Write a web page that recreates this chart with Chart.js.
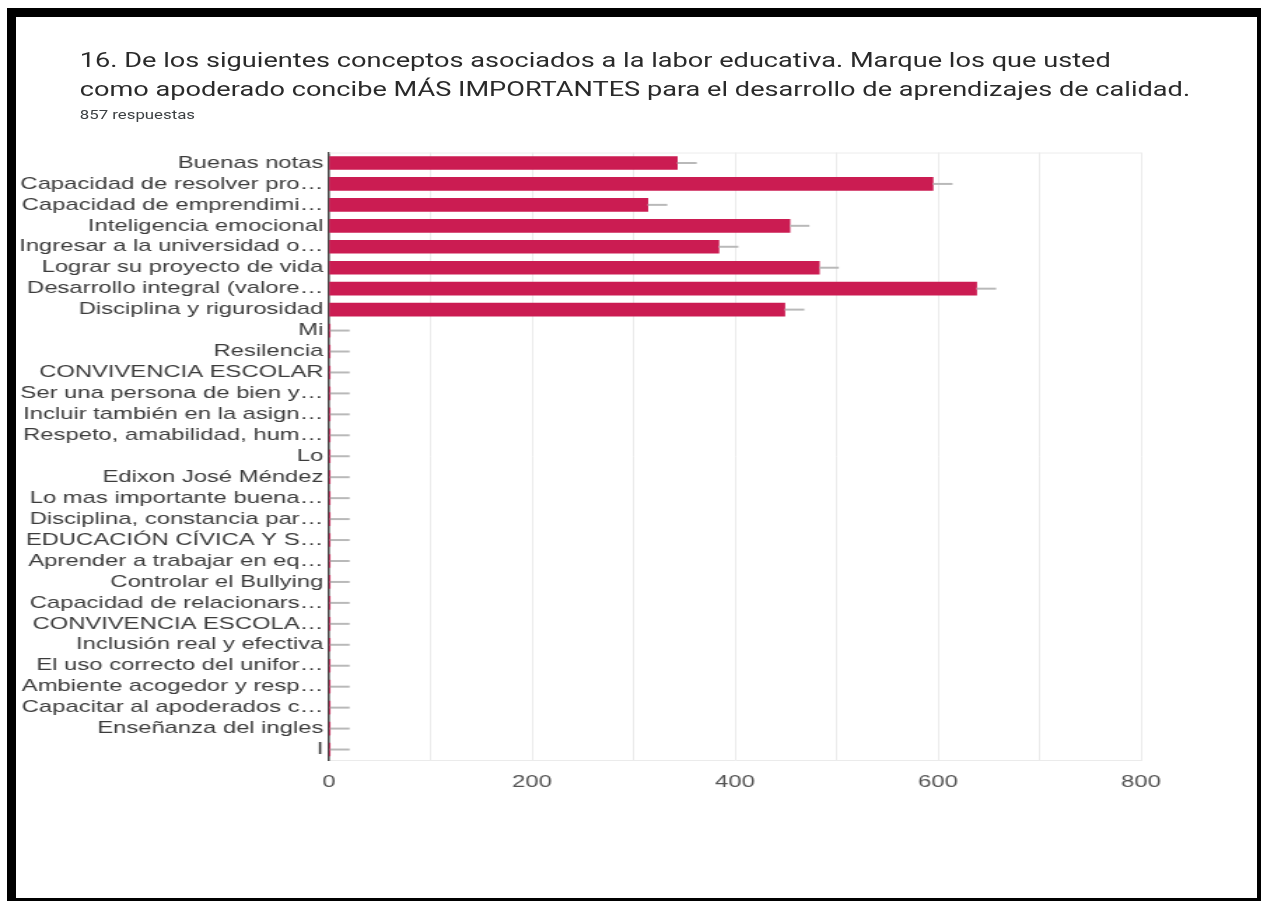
<!DOCTYPE html>
<html lang="es">
<head>
<meta charset="utf-8">
<title>Conceptos más importantes</title>
<script src="https://cdn.jsdelivr.net/npm/chart.js@4.4.1/dist/chart.umd.min.js"></script>
<style>
    html, body { margin: 0; padding: 0; background: #fff; }
    body { width: 1261px; height: 901px; position: relative; overflow: hidden; }
    .marco {
        position: absolute; left: 7px; top: 8px; width: 1254px; height: 893px;
        box-sizing: border-box;
        border-top: 9px solid #000; border-left: 9px solid #000;
        border-right: 4px solid #000; border-bottom: 3px solid #000;
    }
    /* la captura original está estirada en horizontal */
    .estirado {
        position: absolute; left: 0; top: 0; width: 900px; height: 901px;
        transform: scaleX(1.4); transform-origin: 0 0;
    }
    .titulo {
        position: absolute; left: 57px; top: 46px; width: 840px;
        font-family: Roboto, sans-serif; font-size: 19.4px; line-height: 29px;
        color: #2a2a2a; white-space: nowrap;
    }
    .respuestas {
        position: absolute; left: 57px; top: 107px;
        font-family: Roboto, sans-serif; font-size: 12px; font-weight: 400; line-height: 16px;
        color: #3c4043;
    }
    .grafico { position: absolute; left: 12px; top: 140px; width: 870px; height: 680px; }
</style>
</head>
<body>
<div class="marco"></div>
<div class="estirado">
    <div class="titulo">16. De los siguientes conceptos asociados a la labor educativa. Marque los que usted<br>como apoderado concibe MÁS IMPORTANTES para el desarrollo de aprendizajes de calidad.</div>
    <div class="respuestas">857 respuestas</div>
    <div class="grafico"><canvas id="graficoConceptos"></canvas></div>
</div>
<script>
const categorias = [
    'Buenas notas',
    'Capacidad de resolver pro…',
    'Capacidad de emprendimi…',
    'Inteligencia emocional',
    'Ingresar a la universidad o…',
    'Lograr su proyecto de vida',
    'Desarrollo integral (valore…',
    'Disciplina y rigurosidad',
    'Mi',
    'Resilencia',
    'CONVIVENCIA ESCOLAR',
    'Ser una persona de bien y…',
    'Incluir también en la asign…',
    'Respeto, amabilidad, hum…',
    'Lo',
    'Edixon José Méndez',
    'Lo mas importante buena…',
    'Disciplina, constancia par…',
    'EDUCACIÓN CÍVICA Y S…',
    'Aprender a trabajar en eq…',
    'Controlar el Bullying',
    'Capacidad de relacionars…',
    'CONVIVENCIA ESCOLA…',
    'Inclusión real y efectiva',
    'El uso correcto del unifor…',
    'Ambiente acogedor y resp…',
    'Capacitar al apoderados c…',
    'Enseñanza del ingles',
    'I'
];

const respuestas = [343, 595, 314, 454, 384, 483, 638, 449,
    1, 1, 1, 1, 1, 1, 1, 1, 1, 1, 1, 1, 1, 1, 1, 1, 1, 1, 1, 1, 1];

const etiquetasX = [0, 200, 400, 600, 800];

// línea gris que sale del final de cada barra + borde superior del área
const tallosPlugin = {
    id: 'tallos',
    beforeDatasetsDraw(chart) {
        const { ctx, chartArea } = chart;
        ctx.save();
        ctx.strokeStyle = '#ececec';
        ctx.lineWidth = 1;
        ctx.beginPath();
        ctx.moveTo(chartArea.left, chartArea.top + 0.5);
        ctx.lineTo(chartArea.right, chartArea.top + 0.5);
        ctx.stroke();
        ctx.restore();
    },
    afterDatasetsDraw(chart) {
        const ctx = chart.ctx;
        ctx.save();
        ctx.strokeStyle = '#b9b9b9';
        ctx.lineWidth = 2;
        chart.getDatasetMeta(0).data.forEach(barra => {
            ctx.beginPath();
            ctx.moveTo(barra.x, barra.y);
            ctx.lineTo(barra.x + 14, barra.y);
            ctx.stroke();
        });
        ctx.restore();
    }
};

new Chart(document.getElementById('graficoConceptos'), {
    type: 'bar',
    data: {
        labels: categorias,
        datasets: [{
            label: 'Respuestas',
            data: respuestas,
            backgroundColor: '#cb1c52',
            barThickness: 13
        }]
    },
    options: {
        indexAxis: 'y',
        responsive: true,
        maintainAspectRatio: false,
        animation: false,
        layout: { padding: { top: 10, right: 67, bottom: 0, left: 0 } },
        plugins: {
            legend: { display: false },
            tooltip: { enabled: false }
        },
        scales: {
            x: {
                min: 0,
                max: 800,
                afterFit: escala => { escala.height = 60; },
                ticks: {
                    stepSize: 100,
                    padding: 12,
                    color: '#555',
                    font: { family: '"Liberation Sans", Arial, sans-serif', size: 17 },
                    callback: valor => etiquetasX.includes(valor) ? valor : ''
                },
                grid: { color: '#ebebeb', lineWidth: 1, drawTicks: false },
                border: { display: true, color: '#ebebeb', width: 1 }
            },
            y: {
                afterFit: escala => { escala.width = 223; },
                ticks: {
                    autoSkip: false,
                    padding: 4,
                    color: '#3c3c3c',
                    font: { family: '"Liberation Sans", Arial, sans-serif', size: 17, lineHeight: 1 }
                },
                grid: { display: false, drawTicks: false },
                border: { display: true, color: '#444', width: 1.5 }
            }
        }
    },
    plugins: [tallosPlugin]
});
</script>
</body>
</html>
